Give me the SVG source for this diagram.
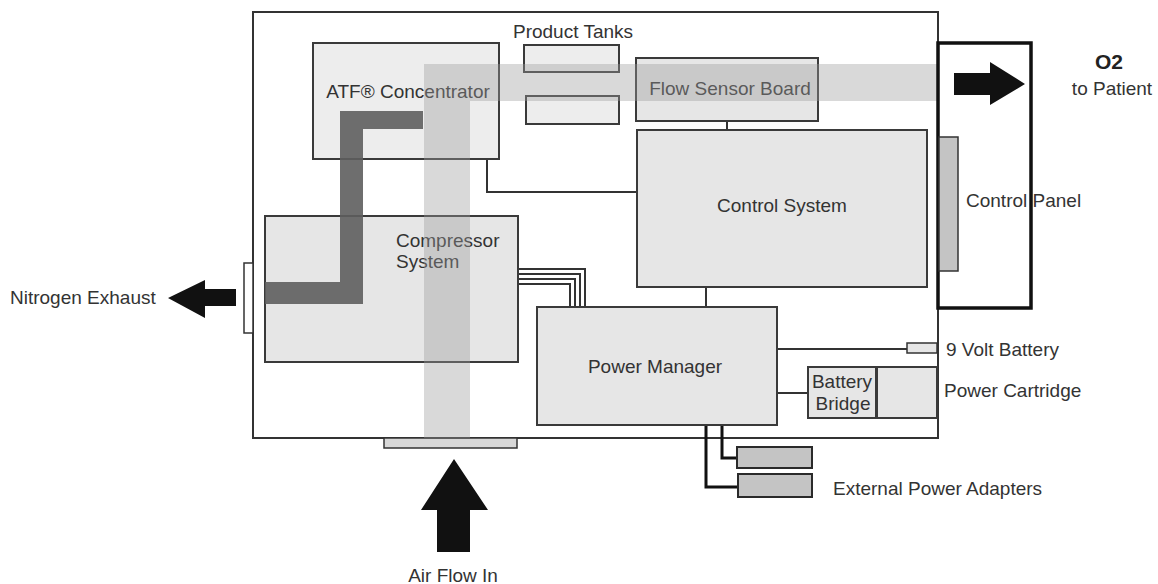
<svg xmlns="http://www.w3.org/2000/svg" width="1158" height="584" viewBox="0 0 1158 584">
<style>
.box{fill:#e6e6e6;stroke:#3a3a3a;stroke-width:2}
.lite{fill:#ededed;stroke:#3a3a3a;stroke-width:2}
.dark{fill:#c4c4c4;stroke:#2a2a2a;stroke-width:2}
.t{font-family:"Liberation Sans",Arial,sans-serif;font-size:19px;fill:#333}
.ln{fill:none;stroke:#333;stroke-width:2}
.thk{fill:none;stroke:#111;stroke-width:3}
.band{fill:#9a9a9a;fill-opacity:0.38}
.arrow{fill:#111}
</style>
<rect width="1158" height="584" fill="#fff"/>
<g id="housing">
<rect x="253" y="12" width="685" height="426" fill="#fff" stroke="#333" stroke-width="2"/>
</g>
<g id="exhaust-port"><rect x="244" y="263" width="9" height="70" fill="#fff" stroke="#333" stroke-width="1.5"/></g>
<g id="intake-port"><rect x="384" y="438" width="133" height="10" fill="#d8d8d8" stroke="#333" stroke-width="1.5"/></g>

<g id="connectors">
<polyline class="ln" points="487,159 487,192 637,192"/>
<line class="ln" x1="727" y1="121" x2="727" y2="130"/>
<line class="ln" x1="706" y1="287" x2="706" y2="307"/>
<polyline class="ln" points="518,269 585,269 585,307"/>
<polyline class="ln" points="518,274 580,274 580,307"/>
<polyline class="ln" points="518,279 575,279 575,307"/>
<polyline class="ln" points="518,284 570,284 570,307"/>
<line class="ln" x1="777" y1="349" x2="907" y2="349"/>
<line class="ln" x1="777" y1="393" x2="808" y2="393"/>
<polyline class="thk" points="722,425 722,458 737,458"/>
<polyline class="thk" points="706,425 706,487 738,487"/>
</g>

<g id="atf-concentrator"><rect class="lite" x="313" y="43" width="186" height="116"/><text class="t" x="408" y="98" text-anchor="middle">ATF® Concentrator</text></g>
<g id="product-tanks">
<rect class="lite" x="524" y="45" width="95" height="27"/>
<rect class="lite" x="526" y="96" width="93" height="28"/>
<text class="t" x="573" y="38" text-anchor="middle">Product Tanks</text>
</g>
<g id="flow-sensor-board"><rect class="box" x="636" y="58" width="182" height="63"/><text class="t" x="730" y="95" text-anchor="middle">Flow Sensor Board</text></g>
<g id="control-system"><rect class="box" x="637" y="130" width="290" height="157"/><text class="t" x="782" y="212" text-anchor="middle">Control System</text></g>
<g id="compressor-system"><rect class="box" x="265" y="216" width="253" height="146"/><text class="t" x="396" y="247">Compressor</text><text class="t" x="396" y="268">System</text></g>
<g id="power-manager"><rect class="box" x="537" y="307" width="240" height="118"/><text class="t" x="655" y="373" text-anchor="middle">Power Manager</text></g>
<g id="battery-bridge"><rect class="box" x="808" y="367" width="68" height="51"/><text class="t" x="842" y="388" text-anchor="middle">Battery</text><text class="t" x="843" y="410" text-anchor="middle">Bridge</text></g>
<g id="power-cartridge"><rect class="box" x="877" y="367" width="60" height="51"/><text class="t" x="944" y="397">Power Cartridge</text></g>
<g id="nine-volt-battery"><rect x="907" y="343" width="30" height="10" fill="#e6e6e6" stroke="#333" stroke-width="1.5"/><text class="t" x="946" y="356">9 Volt Battery</text></g>
<g id="external-power-adapters">
<rect class="dark" x="737" y="447" width="75" height="21"/>
<rect class="dark" x="738" y="474" width="74" height="23"/>
<text class="t" x="833" y="495">External Power Adapters</text>
</g>

<g id="flows">
<rect class="band" x="424" y="64" width="46" height="374"/>
<rect class="band" x="470" y="64" width="468" height="37"/>
<path d="M265,282 H340 V111 H423 V129 H363 V304 H265 Z" fill="#5e5e5e" fill-opacity="0.9"/>
</g>

<g id="control-panel">
<rect x="938" y="43" width="93" height="265" fill="none" stroke="#111" stroke-width="3.5"/>
<rect x="939" y="137" width="19" height="134" fill="#c4c4c4" stroke="#333" stroke-width="1.5"/>
<text class="t" x="966" y="207">Control  Panel</text>
</g>

<g id="o2-out">
<path class="arrow" d="M954,73 H990 V62 L1025,84 L990,105 V95 H954 Z"/>
<text x="1109" y="69" text-anchor="middle" style="font-family:'Liberation Sans',Arial,sans-serif;font-size:21px;font-weight:bold;fill:#222">O2</text>
<text class="t" x="1112" y="95" text-anchor="middle">to Patient</text>
</g>
<g id="nitrogen-out">
<path class="arrow" d="M236,289 H205 V280 L168,298 L205,318 V306 H236 Z"/>
<text class="t" x="10" y="304">Nitrogen Exhaust</text>
</g>
<g id="air-in">
<path class="arrow" d="M454,459 L488,510 H470 V552 H437 V510 H421 Z"/>
<text class="t" x="453" y="582" text-anchor="middle">Air Flow In</text>
</g>
</svg>
